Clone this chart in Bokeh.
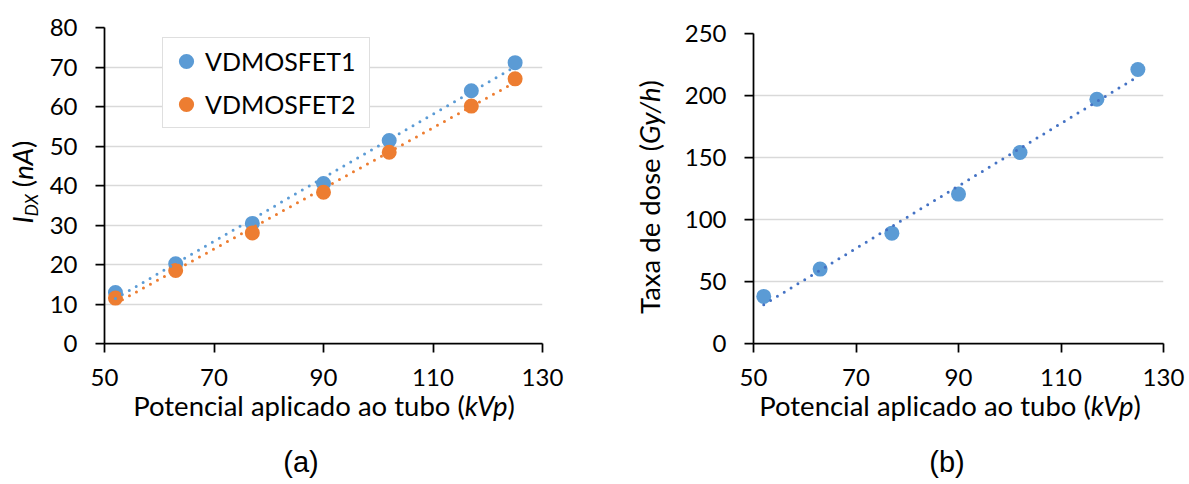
import numpy as np
from bokeh.plotting import figure
from bokeh.layouts import row, column
from bokeh.models import Range1d, FixedTicker, Legend, LegendItem, ColumnDataSource, Div
from bokeh.embed import file_html
from bokeh.resources import INLINE

# ---------------- data ----------------
kvp = [52, 63, 77, 90, 102, 117, 125]
idx_vdmosfet1 = [12.9, 20.2, 30.4, 40.5, 51.4, 64.0, 71.1]
idx_vdmosfet2 = [11.5, 18.5, 28.0, 38.3, 48.4, 60.1, 67.0]
dose_rate = [38.0, 60.0, 89.0, 120.5, 154.0, 197.0, 221.0]
series_names = ["VDMOSFET1", "VDMOSFET2"]
x_ticks = [50, 70, 90, 110, 130]
y_ticks_a = [0, 10, 20, 30, 40, 50, 60, 70, 80]
y_ticks_b = [0, 50, 100, 150, 200, 250]
x_title_html = "Potencial aplicado ao tubo (<i>kVp</i>)"
y_title_a_html = ('<i>I</i><i style="font-size:17px;position:relative;top:5px;">DX</i>'
                  ' (<i>nA</i>)')
y_title_b_html = "Taxa de dose (<i>Gy/h</i>)"
captions = ["(a)", "(b)"]

BLUE = "#5B9BD5"
ORANGE = "#ED7D31"
TREND_B = "#4472C4"
FONT = "Lato"


def style(p, yticks):
    p.outline_line_color = None
    p.background_fill_color = "white"
    p.border_fill_color = "white"
    p.xgrid.visible = False
    p.ygrid.grid_line_color = "#D9D9D9"
    p.ygrid.grid_line_width = 1.5
    p.xaxis.ticker = FixedTicker(ticks=x_ticks)
    p.yaxis.ticker = FixedTicker(ticks=yticks)
    for ax in (p.xaxis[0], p.yaxis[0]):
        ax.axis_line_color = "black"
        ax.axis_line_width = 1.75
        ax.major_tick_line_color = "black"
        ax.major_tick_line_width = 1.75
        ax.major_tick_out = 9
        ax.major_tick_in = 0
        ax.minor_tick_line_color = None
        ax.major_label_text_font = FONT
        ax.major_label_text_font_size = "24px"
        ax.major_label_text_color = "black"
    p.xaxis.major_label_standoff = 16
    p.yaxis.major_label_standoff = 18


def trend(x, y):
    coef = np.polyfit(x, y, 1)
    xs = [min(x), max(x)]
    return xs, list(np.polyval(coef, xs))


def ylabel_div(width, height, left, top, span, html):
    return Div(width=width, height=height, margin=(0, 0, 0, 0), text=(
        f'<div style="position:relative;width:{width}px;height:{height}px;">'
        f'<div style="position:absolute;left:{left}px;top:{top}px;width:{span}px;'
        'height:27px;line-height:27px;transform:rotate(-90deg);transform-origin:0 0;'
        f'text-align:center;white-space:nowrap;font-family:{FONT};font-size:27.5px;'
        f'color:#000;">{html}</div></div>'))


def bottom_div(width, height, title_center, cap_center, caption):
    return Div(width=width, height=height, margin=(0, 0, 0, 0), text=(
        f'<div style="position:relative;width:{width}px;height:{height}px;">'
        f'<div style="position:absolute;left:{title_center - 250}px;top:0px;width:500px;'
        f'line-height:16px;text-align:center;white-space:nowrap;font-family:{FONT};'
        f'font-size:27.5px;color:#000;">{x_title_html}</div>'
        f'<div style="position:absolute;left:{cap_center - 100}px;top:50px;width:200px;'
        'line-height:29px;text-align:center;white-space:nowrap;'
        'font-family:\'Liberation Sans\';font-size:29px;color:#000;">'
        f'{caption}</div></div>'))


# ---------------- chart (a) ----------------
src_a = ColumnDataSource(dict(x=kvp, v1=idx_vdmosfet1, v2=idx_vdmosfet2))
pa = figure(width=568, height=398, output_backend="svg", toolbar_location=None,
            x_range=Range1d(50, 130), y_range=Range1d(0, 80),
            min_border_left=64, min_border_right=66,
            min_border_top=27, min_border_bottom=55)
style(pa, y_ticks_a)

r1 = pa.scatter("x", "v1", source=src_a, size=15, fill_color=BLUE, line_color=None)
r2 = pa.scatter("x", "v2", source=src_a, size=15, fill_color=ORANGE, line_color=None)
tx1, ty1 = trend(kvp, idx_vdmosfet1)
tx2, ty2 = trend(kvp, idx_vdmosfet2)
pa.line(tx1, ty1, line_color=BLUE, line_width=3, line_dash="0 8", line_cap="round")
pa.line(tx2, ty2, line_color=ORANGE, line_width=3, line_dash="0 8", line_cap="round")

legend = Legend(items=[LegendItem(label=series_names[0], renderers=[r1]),
                       LegendItem(label=series_names[1], renderers=[r2])],
                location=(58, 215), orientation="vertical",
                label_text_font=FONT, label_text_font_size="25px",
                label_text_color="black",
                glyph_height=38, glyph_width=38, label_height=38,
                label_width=160, spacing=5, padding=4, margin=0,
                label_standoff=0,
                border_line_color="#BFBFBF", border_line_width=1.5,
                background_fill_color="white", background_fill_alpha=1.0)
pa.add_layout(legend)

# ---------------- chart (b) ----------------
src_b = ColumnDataSource(dict(x=kvp, d=dose_rate))
pb = figure(width=514, height=398, output_backend="svg", toolbar_location=None,
            x_range=Range1d(50, 130), y_range=Range1d(0, 250),
            min_border_left=81, min_border_right=23,
            min_border_top=33, min_border_bottom=55)
style(pb, y_ticks_b)
pb.scatter("x", "d", source=src_b, size=15, fill_color=BLUE, line_color=None)
tbx, tby = trend(kvp, dose_rate)
pb.line(tbx, tby, line_color=TREND_B, line_width=3, line_dash="0 8", line_cap="round")

# ---------------- text panels ----------------
ya = ylabel_div(40, 476, 9, 282, 200, y_title_a_html)
yb = ylabel_div(64, 476, 28, 347, 300, y_title_b_html)
ba = bottom_div(568, 84, 284, 261, captions[0])
bb = bottom_div(514, 84, 278, 275, captions[1])

layout = row(ya, column(pa, ba), yb, column(pb, bb))
open("out.html", "w").write(file_html(layout, INLINE, "chart"))
